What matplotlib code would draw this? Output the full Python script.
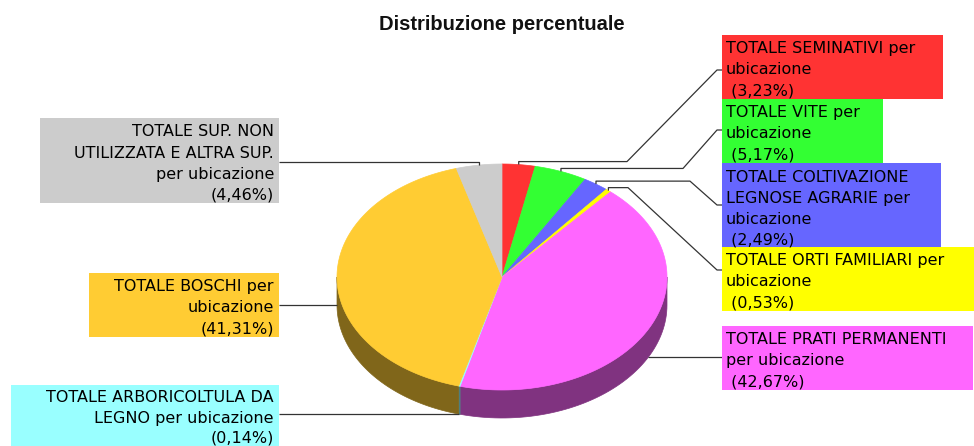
import numpy as np
import matplotlib
matplotlib.use("Agg")
import matplotlib.pyplot as plt
from matplotlib.patches import Polygon, Rectangle
from matplotlib.colors import to_rgb

# ---------------- data ----------------
title = "Distribuzione percentuale"
labels = [
    "TOTALE SEMINATIVI per\nubicazione",
    "TOTALE VITE per\nubicazione",
    "TOTALE COLTIVAZIONE\nLEGNOSE AGRARIE per\nubicazione",
    "TOTALE ORTI FAMILIARI per\nubicazione",
    "TOTALE PRATI PERMANENTI\nper ubicazione",
    "TOTALE ARBORICOLTULA DA\nLEGNO per ubicazione",
    "TOTALE BOSCHI per\nubicazione",
    "TOTALE SUP. NON\nUTILIZZATA E ALTRA SUP.\nper ubicazione",
]
values = [3.23, 5.17, 2.49, 0.53, 42.67, 0.14, 41.31, 4.46]
colors = ["#FF3333", "#33FF33", "#6666FF", "#FFFF00",
          "#FF66FF", "#99FFFF", "#FFCC33", "#CCCCCC"]

# ---------------- layout ----------------
W, H = 974, 446
cx, cy, rx, ry, depth = 502, 277, 165, 113, 28
# box: x0, y0, x1, y1, side, elbow_x, line_y, first-line offset, pitch
boxes = [
    (722, 35, 943, 99, "R", 627, 70, 14, 21),
    (722, 99, 883, 163, "R", 683, 130, 14, 21),
    (722, 163, 941, 247, "R", 690, 205, 14, 21),
    (722, 247, 974, 311, "R", 628, 270, 14, 21),
    (722, 326, 973, 390, "R", None, None, 14, 21),
    (11, 385, 279, 452, "L", None, None, 13, 20),
    (89, 273, 279, 337, "L", None, None, 14, 21),
    (40, 118, 279, 203, "L", None, None, 14, 21),
]
FONT = "DejaVu Sans"
FS = 11.5

fig = plt.figure(figsize=(W / 100, H / 100), dpi=100)
ax = fig.add_axes([0, 0, 1, 1])
ax.set_xlim(0, W)
ax.set_ylim(H, 0)
ax.axis("off")


def ell(t_deg):
    t = np.radians(t_deg)
    return cx + rx * np.cos(t), cy - ry * np.sin(t)


total = sum(values)
starts, ends = [], []
a = 90.0
for v in values:
    starts.append(a)
    a -= v / total * 360.0
    ends.append(a)

# side walls (front half: angles -180..0)
for s, e, c in zip(starts, ends, colors):
    lo, hi = max(e, -180.0), min(s, 0.0)
    if hi <= lo:
        continue
    t = np.linspace(hi, lo, 60)
    x, y = ell(t)
    pts = np.column_stack([np.r_[x, x[::-1]], np.r_[y, y[::-1] + depth]])
    dark = tuple(0.5 * np.array(to_rgb(c)))
    ax.add_patch(Polygon(pts, closed=True, facecolor=dark, edgecolor=dark,
                         lw=0.5, zorder=2))

# top face
for s, e, c in zip(starts, ends, colors):
    n = max(int(abs(s - e) * 2), 4)
    t = np.linspace(s, e, n)
    x, y = ell(t)
    pts = np.column_stack([np.r_[cx, x], np.r_[cy, y]])
    ax.add_patch(Polygon(pts, closed=True, facecolor=c, edgecolor=c,
                         lw=0.5, zorder=3))

# labels, boxes and leader lines
for lab, v, c, s, e, b in zip(labels, values, colors, starts, ends, boxes):
    x0, y0, x1, y1, side, ex, ly, off, pitch = b
    ax.add_patch(Rectangle((x0, y0), x1 - x0, y1 - y0, facecolor=c,
                           edgecolor="none", zorder=4))
    pct = "(" + f"{v:.2f}".replace(".", ",") + "%)"
    lines = lab.split("\n") + [pct]
    for i, ln in enumerate(lines):
        yy = y0 + off + pitch * i
        if side == "R":
            txt = ln if i < len(lines) - 1 else " " + ln
            ax.text(x0 + 4, yy, txt, ha="left", va="center", fontsize=FS,
                    family=FONT, color="black", zorder=5)
        else:
            ax.text(x1 - 5, yy, ln, ha="right", va="center", fontsize=FS,
                    family=FONT, color="black", zorder=5)
    mid = (s + e) / 2.0
    axp, ayp = ell(mid)
    if np.sin(np.radians(mid)) < 0:
        ayp = ayp + depth * 0.98
    lc = "#333333"
    if side == "R" and ex is not None:
        xs = [axp, axp, ex, x0 - 5, x0]
        ys = [ayp, ayp - 3, ayp - 3, ly, ly]
    elif side == "R":
        xs = [axp, x0]
        ys = [ayp, ayp]
    else:
        if np.sin(np.radians(mid)) > 0:
            xs = [axp, axp, x1]
            ys = [ayp, ayp - 3, ayp - 3]
        else:
            xs = [axp, x1]
            ys = [ayp, ayp]
    ax.plot(xs, ys, color=lc, lw=0.9, zorder=3.5, solid_capstyle="butt")

ax.text(502, 25, title, ha="center", va="center", fontsize=14.5,
        fontweight="bold", family="Liberation Sans", color="#111111")

fig.savefig("out.png", dpi=100)
